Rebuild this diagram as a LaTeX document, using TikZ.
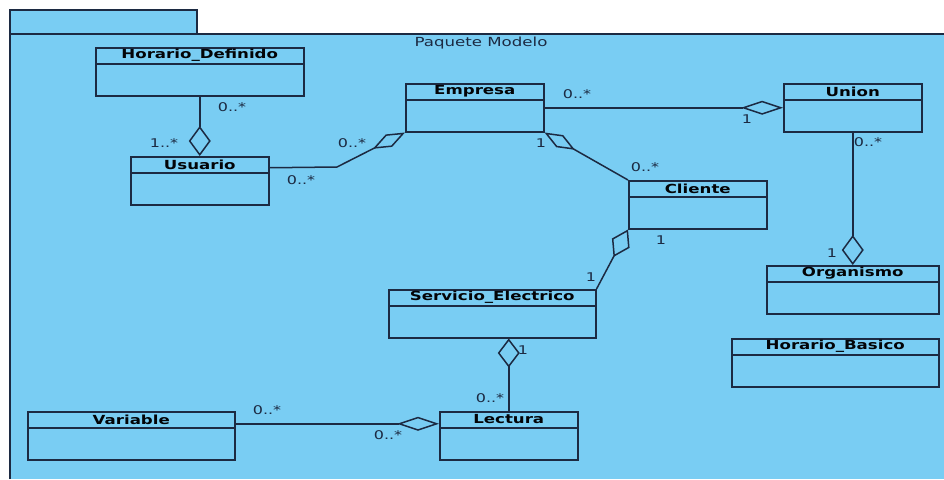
\documentclass[tikz,border=0pt]{standalone}
\usepackage{fontspec}
\setmainfont{DejaVu Sans}[FakeStretch=1.33]
\usetikzlibrary{arrows.meta}
\usepackage{xcolor}
\definecolor{pkgblue}{HTML}{79CDF3}
\definecolor{umlline}{HTML}{1C2A42}

\newcommand{\umlclass}[4]{%
  \node[classbox,minimum width=#3] (#1) at (#2) {};
  \node[classname] at ([yshift=-8.5pt]#1.north) {#4};
  \draw ([yshift=-17pt]#1.north west) -- ([yshift=-17pt]#1.north east);
}
\tikzset{agg/.style 2 args={-{Diamond[open,length=#1pt,width=#2pt]}}}

\begin{document}
\begin{tikzpicture}[x=1pt,y=-1pt,line width=1.5pt,color=umlline]
\tikzstyle{classbox}=[draw,fill=pkgblue,minimum height=48,inner sep=0pt,anchor=north west]
\tikzstyle{classname}=[font=\bfseries\fontsize{12.5}{14}\selectfont,text=black!90!umlline,inner sep=0pt]
\tikzstyle{mult}=[font=\fontsize{12}{14}\selectfont,inner sep=0pt]
\useasboundingbox (0,0) rectangle (944,479);
\fill[pkgblue] (10,34) rectangle (944,479);
\draw[fill=pkgblue] (10,10) rectangle (197,34);
\draw (10,479) -- (10,34) -- (944,34);
\node[mult,font=\fontsize{12.5}{14}\selectfont] (pkgname) at (481,43) {Paquete Modelo};

\umlclass{hdef}{95,47}{208}{Horario\_Definido}
\umlclass{usuario}{130,156}{138}{Usuario}
\umlclass{empresa}{405,83}{138}{Empresa}
\umlclass{union}{783,83}{138}{Union}
\umlclass{cliente}{628,180}{138}{Cliente}
\umlclass{organismo}{766,265}{172}{Organismo}
\umlclass{hbasico}{731,338}{207}{Horario\_Basico}
\umlclass{servicio}{388,289}{207}{Servicio\_Electrico}
\umlclass{variable}{27,411}{207}{Variable}
\umlclass{lectura}{439,411}{138}{Lectura}

\coordinate (bend) at (337,167);
\draw[agg={30}{22}] (hdef) -- (usuario);
\draw[agg={36}{14}] ([yshift=13pt]usuario.east) -- (bend) -- (empresa.south west);
\draw[agg={42}{14}] (empresa) -- (union);
\draw[agg={35}{14}] (cliente.north west) -- (empresa.south east);
\draw[agg={31}{20}] (servicio.north east) -- (cliente.south west);
\draw[agg={30}{22}] (union) -- (organismo);
\draw[agg={29}{22}] (lectura.north) -- (lectura.north |- servicio.south);
\draw[agg={42}{14}] ([yshift=12pt]variable.east) -- ([yshift=12pt]lectura.west);

\node[mult] (m1) at (232,107) {0..*};
\node[mult] (m2) at (164,143) {1..*};
\node[mult] (m3) at (301,180) {0..*};
\node[mult] (m4) at (352,143) {0..*};
\node[mult] (m5) at (541,143) {1};
\node[mult] (m6) at (577,94) {0..*};
\node[mult] (m7) at (747,119) {1};
\node[mult] (m8) at (868,142) {0..*};
\node[mult] (m9) at (645,167) {0..*};
\node[mult] (m10) at (661,240) {1};
\node[mult] (m11) at (832,253) {1};
\node[mult] (m12) at (591,277) {1};
\node[mult] (m13) at (523,350) {1};
\node[mult] (m14) at (490,398) {0..*};
\node[mult] (m15) at (388,435) {0..*};
\node[mult] (m16) at (267,410) {0..*};
\end{tikzpicture}
\end{document}
